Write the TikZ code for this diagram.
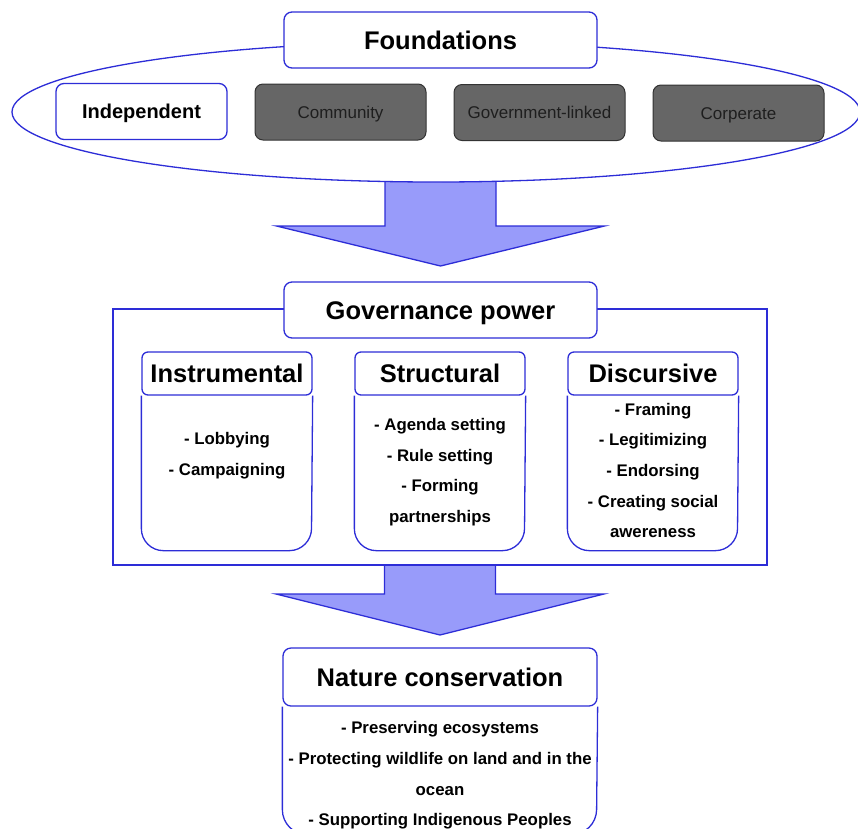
\documentclass[tikz,border=0pt]{standalone}
\usepackage{fontspec}
\setmainfont{Liberation Sans}

\definecolor{lineblue}{RGB}{45,45,215}
\definecolor{arrowfill}{RGB}{152,155,250}
\definecolor{boxgray}{RGB}{102,102,102}
\definecolor{edgegray}{RGB}{51,51,51}
\definecolor{textgray}{RGB}{30,30,30}

\newcommand{\titlefont}{\fontsize{25.5}{30}\selectfont\bfseries}
\newcommand{\kindfont}{\fontsize{17}{20}\selectfont}
\newcommand{\listfont}{\fontsize{16.8}{30.7}\selectfont\bfseries}

% big down arrow: centre x, top of shaft, base of head, tip
\newcommand{\bigdown}[4]{%
  \draw[bigarrow] (#1-55.5,#2) -- (#1-55.5,#3) -- (#1-164,#3) -- (#1,#4)
    -- (#1+164,#3) -- (#1+55.5,#3) -- (#1+55.5,#2) -- cycle;}

\tikzset{
  titlebox/.style={draw=lineblue, line width=1.3, fill=white, rounded corners=8,
    minimum width=313, minimum height=56, inner sep=0, font=\titlefont,
    text height=18.3, text depth=0},
  kindbox/.style={draw=lineblue, line width=1.3, fill=white, rounded corners=8,
    minimum width=171, minimum height=56, inner sep=0,
    font=\fontsize{20}{24}\selectfont\bfseries, text height=14.3, text depth=0},
  graybox/.style={draw=edgegray, line width=1, fill=boxgray, text=textgray,
    rounded corners=8, minimum width=171, minimum height=56, inner sep=0,
    font=\kindfont, text height=12.2, text depth=0},
  lanehead/.style={draw=lineblue, line width=1.3, fill=white, rounded corners=6,
    minimum width=170, minimum height=43, inner sep=0, font=\titlefont,
    text height=18.3, text depth=0},
  lanebody/.style={draw=lineblue, line width=1.3, rounded corners=22},
  listtext/.style={align=center, inner sep=0, font=\listfont},
  bigarrow/.style={draw=lineblue, line width=1.3, fill=arrowfill, line join=miter},
}

\begin{document}
\begin{tikzpicture}[x=1pt, y=-1pt]
\useasboundingbox (0,0) rectangle (858,828);
\clip (0,0) rectangle (858,828);

% foundations
\bigdown{440.5}{178}{226}{266}
\draw[lineblue, line width=1.3, fill=white] (436,112) ellipse [x radius=424, y radius=70];
\node[titlebox] (fnd) at (440.5,40) {Foundations};
\node[kindbox] (ind) at (141.5,111.5) {Independent};
\node[graybox] (com) at (340.5,112) {Community};
\node[graybox] (gvl) at (539.5,112.5) {Government-linked};
\node[graybox] (cor) at (738.5,113) {Corperate};

% governance power
\bigdown{440}{565}{594}{635}
\draw[lineblue, line width=1.3] (113,309) rectangle (767,565);
\node[titlebox] (gov) at (440.5,310) {Governance power};

\node[lanehead] (ins) at (227,373.5) {Instrumental};
\draw[lanebody] (ins.south west) -- ++(0,155) -- ++(170,0) -- (ins.south east);
\node[listtext] (insl) at (227,456) {- Lobbying\\- Campaigning};

\node[lanehead] (str) at (440,373.5) {Structural};
\draw[lanebody] (str.south west) -- ++(0,155) -- ++(170,0) -- (str.south east);
\node[listtext] (strl) at (440,472) {- Agenda setting\\- Rule setting\\- Forming\\partnerships};

\node[lanehead] (dis) at (653,373.5) {Discursive};
\draw[lanebody] (dis.south west) -- ++(0,155) -- ++(170,0) -- (dis.south east);
\node[listtext] (disl) at (653,470.5) {- Framing\\- Legitimizing\\- Endorsing\\- Creating social\\awereness};

% nature conservation
\node[titlebox, minimum width=314, minimum height=58] (nat) at (440,677) {Nature conservation};
\draw[lanebody, rounded corners=25] (nat.south west) -- ++(0,128) -- ++(314,0) -- (nat.south east);
\node[listtext] (natl) at (440,775.5) {- Preserving ecosystems\\- Protecting wildlife on land and in the\\ocean\\- Supporting Indigenous Peoples};
\end{tikzpicture}
\end{document}
